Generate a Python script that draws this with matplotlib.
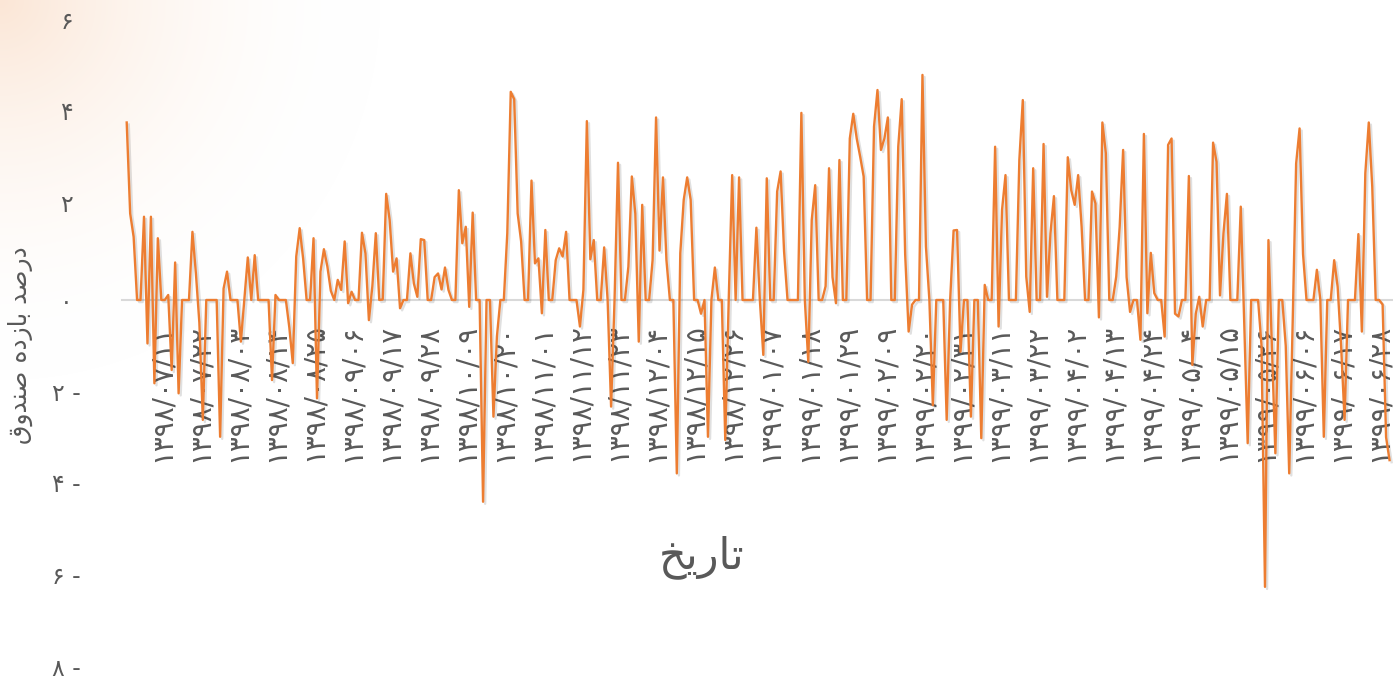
import numpy as np
import matplotlib.pyplot as plt
import matplotlib.patheffects as pe
from matplotlib.transforms import ScaledTranslation

# بازده روزانه صندوق (درصد) از ۱۳۹۸/۰۷/۰۱ تا پایان اسفند
returns_1398 = [
    3.88, 1.89, 1.38, 0, 0, 1.82, -0.95, 1.82, -1.82, 1.35,
    0, 0, 0.11, -1.53, 0.82, -2.04, 0, 0, 0, 1.49,
    0.58, -0.5, -2.62, 0, 0, 0, 0, -2.99, 0.25, 0.62,
    0, 0, 0, -0.91, 0, 0.93, 0, 0.98, 0, 0,
    0, 0, -1.75, 0.11, 0, 0, 0, -0.6, -1.38, 0.95,
    1.57, 0.9, 0, 0, 1.35, -2.15, 0.62, 1.11, 0.73, 0.2,
    0, 0.44, 0.22, 1.28, -0.07, 0.18, 0, 0, 1.47, 1.02,
    -0.44, 0.3, 1.46, 0, 0.01, 2.32, 1.75, 0.62, 0.91, -0.18,
    0, 0, 1.02, 0.36, 0.07, 1.33, 1.31, 0, 0, 0.5,
    0.58, 0.23, 0.71, 0.22, 0, 0, 2.40, 1.24, 1.6, -0.15,
    1.91, 0, 0, -4.41, 0, 0, -2.55, -0.8, 0, 0,
    1.46, 4.55, 4.39, 1.89, 1.28, 0, 0, 2.61, 0.8, 0.91,
    -0.29, 1.53, 0, 0, 0.87, 1.13, 0.95, 1.49, 0, 0,
    0, -0.58, 0.22, 3.91, 0.89, 1.31, 0, 0, 1.15, 0,
    -2.33, 0, 3.0, 0, 0, 0.73, 2.70, 1.89, -0.91, 2.08,
    0, 0, 0.87, 3.99, 1.08, 2.68, 0.87, 0, 0, -3.79,
    1.02, 2.19, 2.68, 2.19, 0, 0, -0.3, 0, -2.99, 0,
    0.71, 0, 0, -3.06, 0, 2.73, 0, 2.68, 0, 0,
]

# بازده روزانه صندوق (درصد) سال ۱۳۹۹ تا ۰۶/۳۱
returns_1399 = [
    0, 0, 1.58, 0, -1.2, 2.66, 0, 0, 2.37, 2.81,
    1.06, 0, 0, 0, 0, 4.09, 0, -1.35, 1.75, 2.51,
    0, 0, 0.3, 2.88, 0.5, -0.07, 3.06, 0, 0, 3.53,
    4.07, 3.53, 3.13, 2.70, 0, 0, 3.79, 4.59, 3.28, 3.53,
    3.99, 0, 0, 3.35, 4.39, 1.0, -0.69, -0.1, 0, 0,
    4.92, 1.17, 0, -2.3, 0, 0, 0, -2.62, 0, 1.52,
    1.53, -1.13, 0, 0, -2.55, 0, 0, -3.02, 0.33, 0,
    0, 3.35, -0.58, 1.97, 2.73, 0, 0, 0, 3.06, 4.37,
    0.51, -0.26, 2.88, 0, 0, 3.41, 0.07, 1.46, 2.27, 0,
    0, 0, 3.12, 2.40, 2.08, 2.73, 1.60, 0, 0, 2.37,
    2.11, -0.38, 3.88, 3.21, 0, 0, 0.51, 1.60, 3.28, 0.5,
    -0.26, 0, 0, -0.87, 3.63, -0.29, 1.03, 0.15, 0, 0,
    -0.8, 3.39, 3.53, -0.3, -0.36, 0, 0, 2.71, -1.42, -0.3,
    0.07, -0.58, 0, 0, 3.44, 3.02, 0.1, 1.46, 2.32, 0,
    0, 0, 2.04, -0.5, -3.13, 0, 0, 0, -1.0, -6.27,
    1.31, -1.0, -3.35, 0, 0, -1.0, -3.79, -0.5, 2.98, 3.75,
    1.0, 0, 0, 0, 0.66, 0, -2.99, 0, 0, 0.87,
    0.29, -1.0, -2.62, 0, 0, 0, 1.44, -0.69, 2.77, 3.88,
    2.48, 0, 0, -0.1, -3.0, -3.5,
]

# برچسب تاریخ ها (هر ۱۱ روز یک برچسب)
tick_labels = [
    '۱۳۹۸/۰۷/۱۱', '۱۳۹۸/۰۷/۲۲', '۱۳۹۸/۰۸/۰۳', '۱۳۹۸/۰۸/۱۴', '۱۳۹۸/۰۸/۲۵',
    '۱۳۹۸/۰۹/۰۶', '۱۳۹۸/۰۹/۱۷', '۱۳۹۸/۰۹/۲۸', '۱۳۹۸/۱۰/۰۹', '۱۳۹۸/۱۰/۲۰',
    '۱۳۹۸/۱۱/۰۱', '۱۳۹۸/۱۱/۱۲', '۱۳۹۸/۱۱/۲۳', '۱۳۹۸/۱۲/۰۴', '۱۳۹۸/۱۲/۱۵',
    '۱۳۹۸/۱۲/۲۶', '۱۳۹۹/۰۱/۰۷', '۱۳۹۹/۰۱/۱۸', '۱۳۹۹/۰۱/۲۹', '۱۳۹۹/۰۲/۰۹',
    '۱۳۹۹/۰۲/۲۰', '۱۳۹۹/۰۲/۳۱', '۱۳۹۹/۰۳/۱۱', '۱۳۹۹/۰۳/۲۲', '۱۳۹۹/۰۴/۰۲',
    '۱۳۹۹/۰۴/۱۳', '۱۳۹۹/۰۴/۲۴', '۱۳۹۹/۰۵/۰۴', '۱۳۹۹/۰۵/۱۵', '۱۳۹۹/۰۵/۲۶',
    '۱۳۹۹/۰۶/۰۶', '۱۳۹۹/۰۶/۱۷', '۱۳۹۹/۰۶/۲۸',
]
y_ticks = [6, 4, 2, 0, -2, -4, -6, -8]
y_labels = ['۶', '۴', '۲', '۰', '۲ -', '۴ -', '۶ -', '۸ -']

# متن فارسی به صورت حروف شکل یافته (ترتیب نمایشی)
x_title = 'ﺦﻳﺭﺎﺗ'
y_title = 'ﻕﻭﺪﻨﺻ ﻩﺩﺯﺎﺑ ﺪﺻﺭﺩ'

returns = returns_1398 + returns_1399
x = np.arange(len(returns))
gray = '#595959'

W, H = 1393, 679
fig = plt.figure(figsize=(W / 100, H / 100), dpi=100)

# پس زمینه با گرادیان نارنجی کم رنگ در گوشه بالا چپ
bg = fig.add_axes([0, 0, 1, 1], zorder=-1)
yy, xx = np.mgrid[0:H, 0:W]
a = np.clip(1 - np.sqrt(xx ** 2 + yy ** 2) / 380, 0, 1) ** 2
tint = np.array([251, 230, 214]) / 255
img = np.ones((H, W, 3)) * (1 - a[..., None]) + tint * a[..., None]
bg.imshow(img, aspect='auto')
bg.axis('off')

ax = fig.add_axes([122 / W, 1 - 666 / H, 1 - 122 / W, (666 - 25.5) / H])
ax.patch.set_alpha(0)
ax.plot(x, returns, color='#ED7D31', lw=1.7, zorder=3,
        path_effects=[pe.SimpleLineShadow(offset=(1.5, -1.5), alpha=0.12, shadow_color='black'),
                      pe.Normal()])
ax.set_xlim(-1.36, 366)
ax.set_ylim(-8, 6)

for s in ['top', 'right', 'left']:
    ax.spines[s].set_visible(False)
ax.spines['bottom'].set_position(('data', 0))
ax.spines['bottom'].set_color('#D9D9D9')
ax.spines['bottom'].set_linewidth(1.5)
ax.spines['bottom'].set_zorder(1)

ax.set_xticks(x[10::11], tick_labels, rotation=90, fontsize=20, color=gray)
ax.tick_params(axis='x', length=0, pad=17)
ax.set_yticks(y_ticks, y_labels, fontsize=17, color=gray)
ax.tick_params(axis='y', length=0, pad=40)
# برچسب های مثبت کمی بالاتر از خط تیک قرار دارند
up = ScaledTranslation(0, 6 / 100, fig.dpi_scale_trans)
for lab, val in zip(ax.get_yticklabels(), y_ticks):
    lab.set_ha('center')
    if val > 0:
        lab.set_transform(lab.get_transform() + up)

fig.text(702 / W, 1 - 557 / H, x_title, fontsize=31, color=gray, ha='center', va='center')
fig.text(20 / W, 1 - 345 / H, y_title, fontsize=18, color=gray, rotation=90,
         ha='center', va='center')

fig.savefig('out.png', dpi=100)
